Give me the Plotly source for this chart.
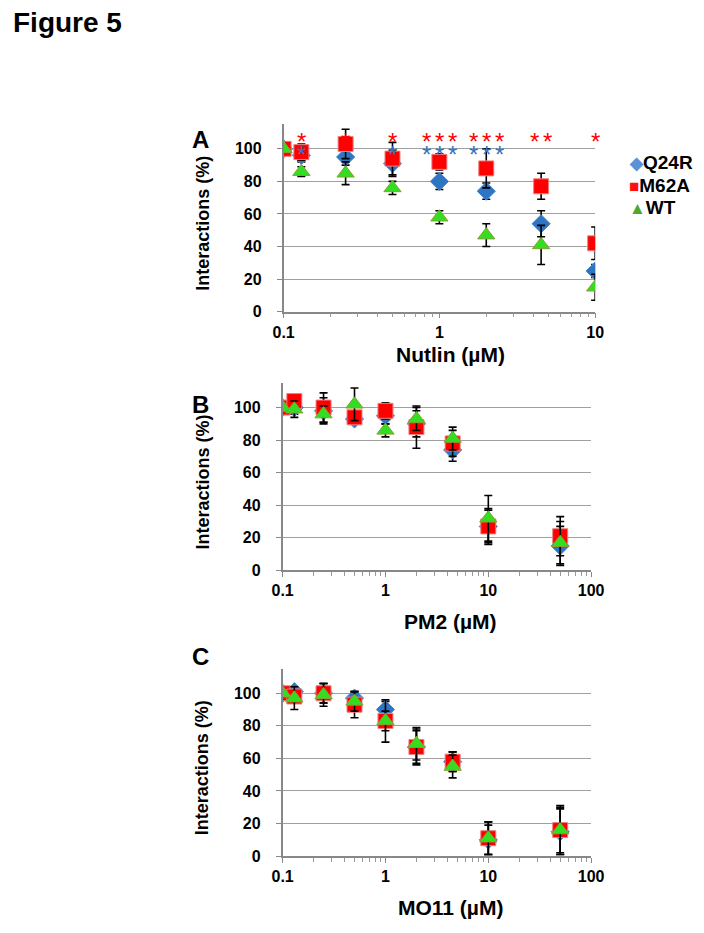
import math
import plotly.graph_objects as go

W, H = 704, 933

# ---------------- data ----------------
series_names = ["Q24R", "M62A", "WT"]

nutlin_x = [0.1, 0.13, 0.25, 0.5, 1, 2, 4.5, 10]
nutlin_q24r = [100, 96, 95, 91, 80, 74, 54, 25]
nutlin_q24r_err = [0, 4, 5, 8, 5, 5, 8, 4]
nutlin_m62a = [100, 98, 103, 94, 92, 88, 77, 42]
nutlin_m62a_err = [0, 5, 9, 10, 5, 12, 8, 10]
nutlin_wt = [100, 86, 85, 76, 58, 47, 41, 15]
nutlin_wt_err = [0, 3, 7, 4, 4, 7, 12, 8]

pm2_x = [0.1, 0.13, 0.25, 0.5, 1, 2, 4.5, 10, 50]
pm2_q24r = [100, 100, 98, 93, 95, 90, 74, 27, 15]
pm2_q24r_err = [0, 4, 8, 3, 5, 8, 7, 10, 12]
pm2_m62a = [100, 104, 100, 94, 98, 88, 78, 27, 21]
pm2_m62a_err = [0, 3, 9, 3, 5, 13, 8, 11, 12]
pm2_wt = [100, 99, 96, 102, 86, 93, 81, 32, 17]
pm2_wt_err = [0, 5, 5, 10, 4, 7, 7, 14, 13]

mo11_x = [0.1, 0.13, 0.25, 0.5, 1, 2, 4.5, 10, 50]
mo11_q24r = [100, 101, 100, 97, 90, 67, 58, 10, 15]
mo11_q24r_err = [0, 3, 6, 4, 5, 11, 6, 9, 14]
mo11_m62a = [100, 98, 100, 93, 83, 67, 58, 11, 16]
mo11_m62a_err = [0, 4, 6, 8, 13, 10, 6, 10, 15]
mo11_wt = [100, 97, 99, 95, 83, 69, 55, 11, 16]
mo11_wt_err = [0, 7, 7, 6, 6, 10, 7, 10, 14]

# significance asterisks (Nutlin panel): concentration, count
red_stars = [(0.13, 1), (0.25, 1), (0.5, 1), (1, 3), (2, 3), (4.5, 2), (10, 1)]
blue_stars = [(0.13, 1), (0.5, 1), (1, 3), (2, 3)]

y_ticks = [0, 20, 40, 60, 80, 100]
x_titles = ["Nutlin (\u00b5M)", "PM2 (\u00b5M)", "MO11 (\u00b5M)"]
panel_letters = ["A", "B", "C"]

# ---------------- styling ----------------
FONT = "Arial, Liberation Sans, Helvetica, sans-serif"
colors = {"Q24R": "#2E75C4", "M62A": "#FF0000", "WT": "#33DD22"}
edges = {"Q24R": "#4A86C8", "M62A": "#F08080", "WT": "#88A030"}
legend_colors = {"Q24R": "#5B92D6", "M62A": "#FF1010", "WT": "#4EA72E"}
legend_glyph = {"Q24R": "\u25C6", "M62A": "\u25A0", "WT": "\u25B2"}
symbols = {"Q24R": "diamond", "M62A": "square", "WT": "triangle-up"}
sizes = {"Q24R": 14, "M62A": 15, "WT": 15}

# plotting box as it lands in the page (observed)
BX0, BW, BY0, BH = 16, 681, 8, 925


def px_x(p):
    return (p - BX0) / BW


def px_y(p):
    return 1 - (p - BY0) / BH


panels = [
    dict(x=nutlin_x, data=[(nutlin_q24r, nutlin_q24r_err), (nutlin_m62a, nutlin_m62a_err), (nutlin_wt, nutlin_wt_err)],
         xd=(281, 593), y0=312, xr=[-1, 1], ticks=[0.1, 1, 10], tt=["0.1", "1", "10"]),
    dict(x=pm2_x, data=[(pm2_q24r, pm2_q24r_err), (pm2_m62a, pm2_m62a_err), (pm2_wt, pm2_wt_err)],
         xd=(280, 589), y0=571, xr=[-1, 2], ticks=[0.1, 1, 10, 100], tt=["0.1", "1", "10", "100"]),
    dict(x=mo11_x, data=[(mo11_q24r, mo11_q24r_err), (mo11_m62a, mo11_m62a_err), (mo11_wt, mo11_wt_err)],
         xd=(280, 589), y0=857, xr=[-1, 2], ticks=[0.1, 1, 10, 100], tt=["0.1", "1", "10", "100"]),
]

minor_vals = [m * 10 ** e for e in (-1, 0, 1) for m in range(2, 10)]

fig = go.Figure()
layout = dict(width=W, height=H, autosize=False, margin=dict(l=0, r=0, t=0, b=0),
              paper_bgcolor="white", plot_bgcolor="white", showlegend=False,
              font=dict(family=FONT, color="black"))
annotations = []
PXPERUNIT = 1.63
TOP = 115

for i, p in enumerate(panels):
    k = "" if i == 0 else str(i + 1)
    xa, ya = "x" + k, "y" + k
    ytop = p["y0"] - TOP * PXPERUNIT
    layout["xaxis" + k] = dict(
        type="log", range=p["xr"], domain=[px_x(p["xd"][0]), px_x(p["xd"][1])], anchor=ya,
        tickvals=p["ticks"], ticktext=p["tt"], ticks="outside", ticklen=5, tickcolor="#888",
        showline=True, linecolor="#888", linewidth=1.5, showgrid=False, zeroline=False,
        tickfont=dict(size=16, family=FONT, color="black", weight="bold"),
        minor=dict(tickvals=minor_vals, ticks="outside", ticklen=4, tickcolor="#999", showgrid=False),
        ticklabelstandoff=0,
    )
    layout["yaxis" + k] = dict(
        range=[0, TOP], domain=[px_y(p["y0"]), px_y(ytop)], anchor=xa,
        tickvals=y_ticks, ticks="outside", ticklen=5, tickcolor="#888",
        showline=True, linecolor="#888", linewidth=1.5, showgrid=True, gridcolor="#A0A0A0", gridwidth=1.3,
        zeroline=False, tickfont=dict(size=16, family=FONT, color="black", weight="bold"),
        ticklabelstandoff=12,
    )
    for name, (vals, err) in zip(series_names, p["data"]):
        fig.add_trace(go.Scatter(
            x=p["x"], y=vals, mode="markers", xaxis=xa, yaxis=ya, showlegend=False, name=name,
            marker=dict(symbol=symbols[name], size=sizes[name], color=colors[name],
                        line=dict(color=edges[name], width=1)),
            error_y=dict(type="data", array=err, visible=True, color="black", thickness=1.6, width=4),
        ))
    # y-axis title
    yc = (p["y0"] + ytop) / 2 + 5
    annotations.append(dict(x=px_x(200), y=px_y(yc), xref="paper", yref="paper", text="Interactions (%)",
                            textangle=-90, showarrow=False, xanchor="center", yanchor="middle",
                            font=dict(size=18, family=FONT, color="black", weight="bold")))
    # x-axis title
    annotations.append(dict(x=px_x(448), y=px_y(p["y0"] + 43 + (8 if i > 0 else 0)), xref="paper", yref="paper",
                            text=x_titles[i], showarrow=False, xanchor="center", yanchor="middle",
                            font=dict(size=21, family=FONT, color="black", weight="bold")))

# panel letters
for letter, yy in zip(panel_letters, [140, 405, 657]):
    annotations.append(dict(x=px_x(198), y=px_y(yy), xref="paper", yref="paper", text=letter,
                            showarrow=False, xanchor="center", yanchor="middle",
                            font=dict(size=24, family=FONT, color="black", weight="bold")))

# figure title
annotations.append(dict(x=px_x(8), y=px_y(5), xref="paper", yref="paper", text="Figure 5",
                        showarrow=False, xanchor="left", yanchor="top",
                        font=dict(size=28, family=FONT, color="black", weight="bold")))

# asterisks
for stars, ypix, col in [(red_stars, 142, "#FF0000"), (blue_stars, 155, "#2E75C4")]:
    for conc, n in stars:
        for j in range(n):
            off = (j - (n - 1) / 2) * 13
            annotations.append(dict(x=math.log10(conc), y=px_y(ypix), xref="x", yref="paper", text="*",
                                    xshift=off, showarrow=False, xanchor="center", yanchor="middle",
                                    font=dict(size=24, family=FONT, color=col)))

# legend (text entries with coloured glyphs)
for name, yy in zip(series_names, [163, 186, 208]):
    annotations.append(dict(
        x=px_x(625), y=px_y(yy), xref="paper", yref="paper", showarrow=False,
        xanchor="left", yanchor="middle",
        text=f"<span style='color:{legend_colors[name]};font-size:17px'>{legend_glyph[name]}</span>{name}",
        font=dict(size=19, family=FONT, color="black", weight="bold")))

layout["annotations"] = annotations
fig.update_layout(**layout)
fig.write_html("out.html")
